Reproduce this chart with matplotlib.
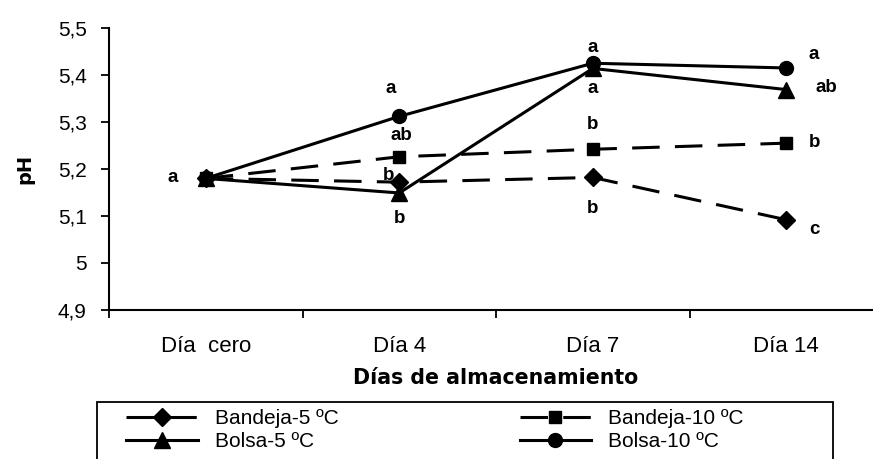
import matplotlib
matplotlib.use('Agg')
import matplotlib.pyplot as plt
from matplotlib.patches import Rectangle
from matplotlib.ticker import FixedLocator, FuncFormatter

plt.rcParams['font.family'] = ['Liberation Sans', 'DejaVu Sans']

days = ["Día  cero", "Día 4", "Día 7", "Día 14"]
y_ticks = [4.9, 5.0, 5.1, 5.2, 5.3, 5.4, 5.5]

bandeja_5 = [5.18, 5.172, 5.182, 5.092]
bandeja_10 = [5.18, 5.226, 5.242, 5.255]
bolsa_5 = [5.18, 5.149, 5.414, 5.369]
bolsa_10 = [5.18, 5.312, 5.425, 5.415]

# significance letters per day (empty = none drawn)
letters_bandeja_5 = ["", "b", "b", "c"]
letters_bandeja_10 = ["", "ab", "b", "b"]
letters_bolsa_5 = ["", "b", "a", "ab"]
letters_bolsa_10 = ["a", "a", "a", "a"]

# label offsets from the point, in pixels
off_bandeja_5 = [(0, 0), (-11, 7), (0, -31), (28, -10)]
off_bandeja_10 = [(0, 0), (2, 21), (0, 25), (28, 1)]
off_bolsa_5 = [(0, 0), (0, -26), (0, -20), (40, 2)]
off_bolsa_10 = [(-33, 1), (-9, 28), (0, 16), (27, 13)]

series = [
    ("Bandeja-5 ºC", bandeja_5, 'D', 9, (0, (9, 5)), letters_bandeja_5, off_bandeja_5, 2),
    ("Bandeja-10 ºC", bandeja_10, 's', 9, (0, (9, 5)), letters_bandeja_10, off_bandeja_10, 5),
    ("Bolsa-5 ºC", bolsa_5, '^', 11, '-', letters_bolsa_5, off_bolsa_5, 3),
    ("Bolsa-10 ºC", bolsa_10, 'o', 10, '-', letters_bolsa_10, off_bolsa_10, 4),
]

fig = plt.figure(figsize=(8.73, 4.59), dpi=100)
W, H = 873, 459
ax = fig.add_axes([109 / W, (H - 310) / H, 774 / W, 282 / H])

x = list(range(len(days)))
handles = {}
for name, vals, mk, ms, ls, letters, offs, z in series:
    line, = ax.plot(x, vals, color='black', lw=2.2, linestyle=ls, marker=mk,
                    markersize=ms, label=name, zorder=z, clip_on=False)
    handles[name] = line
    for xi, v, lab, (dx, dy) in zip(x, vals, letters, offs):
        if lab:
            ax.annotate(lab, (xi, v), xytext=(dx, dy), textcoords='offset pixels',
                        ha='center', va='center', fontsize=13.5, fontweight='bold')

ax.set_xlim(-0.5, 3.5)
ax.set_ylim(4.9, 5.5)
ax.set_yticks(y_ticks)
ax.yaxis.set_major_formatter(FuncFormatter(lambda v, p: f"{v:g}".replace('.', ',')))
ax.set_xticks(x)
ax.set_xticklabels(days)
ax.xaxis.set_minor_locator(FixedLocator([-0.5, 0.5, 1.5, 2.5]))
ax.tick_params(axis='x', which='major', length=0, pad=19, labelsize=16)
ax.tick_params(axis='x', which='minor', length=6, width=1.3, direction='out')
ax.tick_params(axis='y', length=6, width=1.3, direction='out', labelsize=15, pad=10)

for side in ['top', 'right']:
    ax.spines[side].set_visible(False)
for side in ['left', 'bottom']:
    ax.spines[side].set_linewidth(1.5)

ax.set_xlabel("Días de almacenamiento", family='DejaVu Sans', fontweight='bold',
              fontsize=14.8, labelpad=8)
ax.set_ylabel("pH", family='DejaVu Sans', fontweight='bold', fontsize=14, labelpad=17)

# legend box runs off the bottom edge
fig.patches.append(Rectangle((97 / W, -0.1), 736 / W, 0.1 + (H - 402) / H,
                             transform=fig.transFigure, fill=False,
                             edgecolor='black', lw=1.3))
order = ["Bandeja-5 ºC", "Bolsa-5 ºC", "Bandeja-10 ºC", "Bolsa-10 ºC"]
fig.legend([handles[n] for n in order], order, loc='upper left',
           bbox_to_anchor=(126 / W, (H - 409) / H), ncol=2, frameon=False,
           fontsize=15, handlelength=3.45, handletextpad=0.8,
           columnspacing=8.7, labelspacing=0.2, borderaxespad=0, borderpad=0)

fig.savefig('out.png', dpi=100)
